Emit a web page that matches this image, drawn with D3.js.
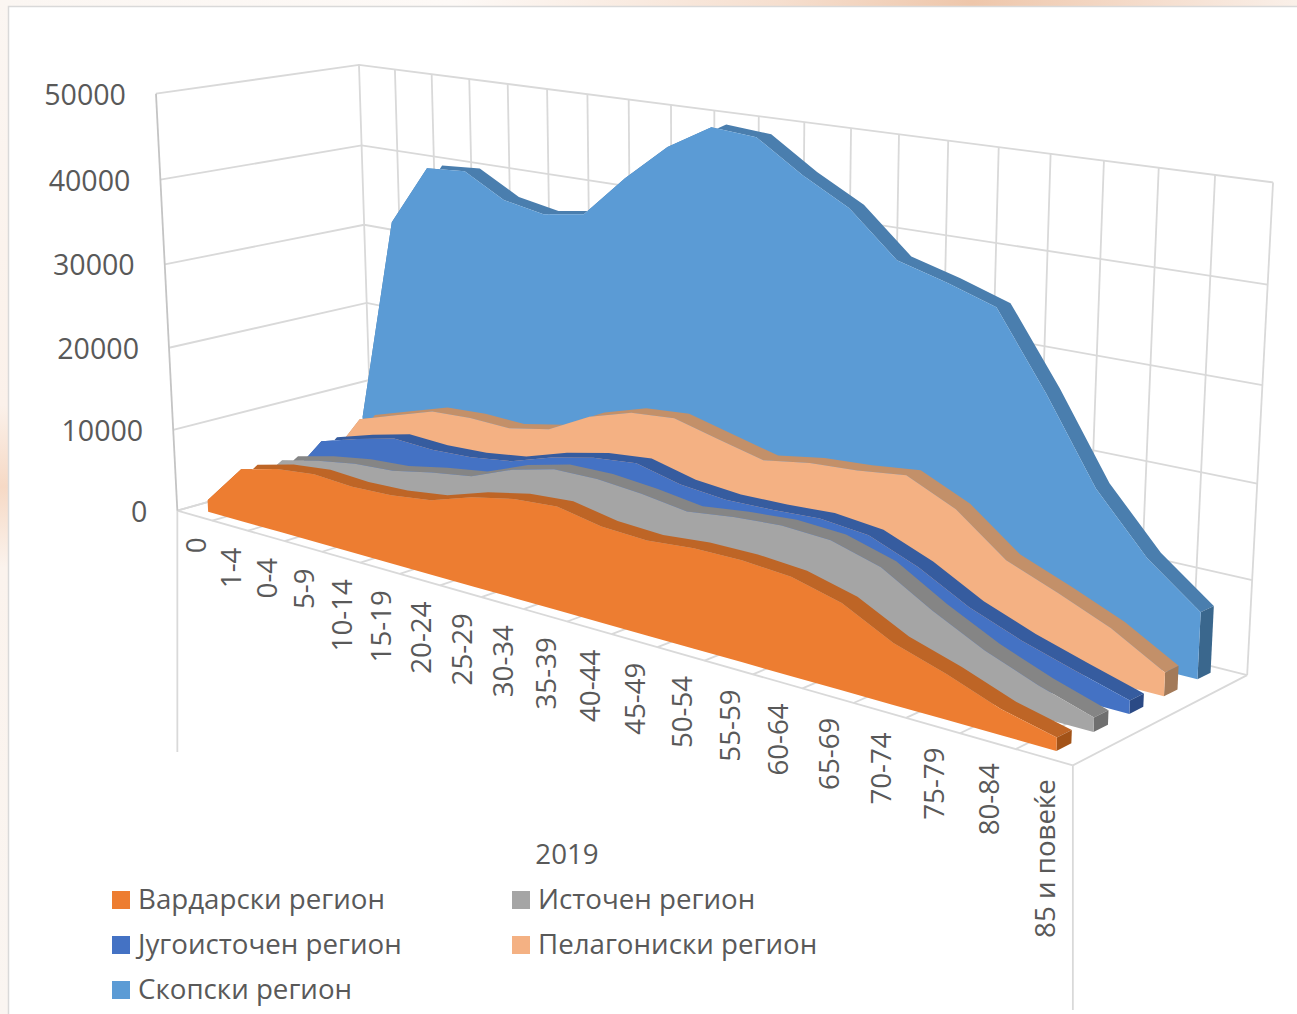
<!DOCTYPE html>
<html>
<head>
<meta charset="utf-8">
<script src="https://cdn.jsdelivr.net/npm/d3@7"></script>
<style>body{margin:0;background:#fff}svg{display:block}text{font-family:"Open Sans",sans-serif;fill:#595959}</style>
</head>
<body>
<svg width="1297" height="1014"></svg>
<script>
const svg = d3.select("svg");

const categories = ["0","1-4","0-4","5-9","10-14","15-19","20-24","25-29","30-34","35-39","40-44","45-49","50-54","55-59","60-64","65-69","70-74","75-79","80-84","85 и повеќе"];
const seriesNames = ["Вардарски регион","Источен регион","Југоисточен регион","Пелагониски регион","Скопски регион"];
const yearLabel = "2019";

const vardarski = [1440,6430,7620,8150,7850,8050,8680,10230,11240,11620,10660,10380,10840,10850,10430,9070,6340,4650,2620,1330];
const istocen = [1200,6130,7250,8040,8360,9320,10030,11960,13180,13250,12790,12060,12680,13030,12720,11180,8020,5310,3200,1470];
const jugoistocen = [1300,7170,8570,9750,9510,9750,10430,12020,13120,13630,12400,11920,12010,12300,11730,9610,6720,4650,2970,1380];
const pelagoniski = [2000,8650,10220,11760,12040,11890,12880,15430,16990,17430,16150,14900,15760,16100,16740,14290,10110,7970,5650,2480];
const skopski = [6510,32130,39490,39830,37140,36240,37030,41900,46120,48990,48560,45150,42340,37580,36120,34380,26360,17460,11350,7050];
const seriesValues = [vardarski, istocen, jugoistocen, pelagoniski, skopski];

const frontColors = ["#ED7D31","#A5A5A5","#4472C4","#F4B183","#5B9BD5"];
const topColors = ["#BE6526","#858585","#365C9F","#C39069","#4A7EAE"];
const endColors = ["#A35318","#6F6F6F","#2B4A85","#A37A59","#3A678D"];

// corners of the 3D box on screen: x, y, z, screen x, screen y
const anchors = [[0,0,0,178,510],[1,0,0,1072,767],[1,0,1,1248,673],[0,0,1,371,457],[0,1,0,156,93],[0,1,1,359,65],[1,1,1,1273,183]];

// least squares fit of the projective camera through the corners
function solveProjection(pts){
  const A = [], b = [];
  pts.forEach(([x,y,z,u,v]) => {
    A.push([x,y,z,1,0,0,0,0,-u*x,-u*y,-u*z]); b.push(u);
    A.push([0,0,0,0,x,y,z,1,-v*x,-v*y,-v*z]); b.push(v);
  });
  const n = 11;
  const M = d3.range(n).map(i => d3.range(n+1).map(j => {
    let s = 0;
    A.forEach((r,k) => { s += r[i]*(j<n ? r[j] : b[k]); });
    return s;
  }));
  for (let i = 0; i < n; i++) {
    let p = i;
    for (let r = i+1; r < n; r++) if (Math.abs(M[r][i]) > Math.abs(M[p][i])) p = r;
    [M[i],M[p]] = [M[p],M[i]];
    for (let r = 0; r < n; r++) {
      if (r === i) continue;
      const f = M[r][i]/M[i][i];
      for (let c = i; c <= n; c++) M[r][c] -= f*M[i][c];
    }
  }
  return M.map((r,i) => r[n]/r[i]);
}
const P = solveProjection(anchors);
function proj(x,y,z){
  const w = P[8]*x + P[9]*y + P[10]*z + 1;
  return [(P[0]*x + P[1]*y + P[2]*z + P[3])/w, (P[4]*x + P[5]*y + P[6]*z + P[7])/w];
}

const xScale = d3.scalePoint().domain(categories).range([0,1]).padding(0.5);
const yScale = d3.scaleLinear().domain([0,50000]).range([0,1]);
const zScale = d3.scalePoint().domain(seriesNames).range([0,1]).padding(0.5);
const frontOffset = 0.035, backOffset = 0.045;
const line = d3.line();

// page background behind the chart box
const defs = svg.append("defs");
const topGrad = defs.append("linearGradient").attr("id","topStrip");
[[0,"#fbf6f2"],[0.35,"#fdf9f6"],[0.6,"#f6dfcf"],[0.75,"#eec6aa"],[0.88,"#f5dccb"],[1,"#faf0e9"]].forEach(s => {
  topGrad.append("stop").attr("offset",s[0]).attr("stop-color",s[1]);
});
const leftGrad = defs.append("linearGradient").attr("id","leftStrip").attr("x1",0).attr("y1",0).attr("x2",0).attr("y2",1);
[[0,"#fbf6f2"],[0.4,"#fbf1ea"],[0.48,"#f6d9c5"],[0.56,"#fbf3ed"],[1,"#faf5f1"]].forEach(s => {
  leftGrad.append("stop").attr("offset",s[0]).attr("stop-color",s[1]);
});
svg.append("rect").attr("width",1297).attr("height",6).attr("fill","url(#topStrip)");
svg.append("rect").attr("width",8).attr("height",1014).attr("fill","url(#leftStrip)");
svg.append("path").attr("d","M8.5,1014V6.5H1297").attr("fill","none").attr("stroke","#d9d9d9").attr("stroke-width",1.5);

// walls and floor
const grid = svg.append("g").attr("stroke","#d9d9d9").attr("stroke-width",1.8).attr("fill","none");
yScale.ticks(5).forEach(t => {
  const y = yScale(t);
  grid.append("path").attr("d",line([proj(0,y,0),proj(0,y,1),proj(1,y,1)]));
});
d3.range(21).forEach(i => {
  grid.append("path").attr("d",line([proj(i/20,0,1),proj(i/20,1,1)]));
  grid.append("path").attr("d",line([proj(i/20,0,0),proj(i/20,0,1)]));
});
grid.append("path").attr("d",line([proj(0,0,0),proj(1,0,0)]));
const fl = proj(0,0,0), fr = proj(1,0,0);
grid.append("path").attr("d",line([fl,[fl[0],752]]));
grid.append("path").attr("d",line([fr,[fr[0],1010]]));
svg.append("path").attr("d",line([proj(0,1,0),fl])).attr("fill","none").attr("stroke","#c4c4c4").attr("stroke-width",1.8);

// series, back to front
d3.range(seriesNames.length-1,-1,-1).forEach(s => {
  const zf = zScale(seriesNames[s]) - frontOffset;
  const zb = zScale(seriesNames[s]) + backOffset;
  const vals = seriesValues[s];
  const topFront = vals.map((v,i) => proj(xScale(categories[i]),yScale(v),zf));
  const topBack = vals.map((v,i) => proj(xScale(categories[i]),yScale(v),zb));
  const botFront = vals.map((v,i) => proj(xScale(categories[i]),0,zf));
  const last = categories[categories.length-1];
  const lastV = vals[vals.length-1];
  const g = svg.append("g");
  g.append("path").attr("d",line(topFront.concat(topBack.slice().reverse()))+"Z").attr("fill",topColors[s]);
  g.append("path").attr("d",line([
    proj(xScale(last),yScale(lastV),zf),proj(xScale(last),yScale(lastV),zb),
    proj(xScale(last),0,zb),proj(xScale(last),0,zf)
  ])+"Z").attr("fill",endColors[s]);
  g.append("path").attr("d",line(topFront.concat(botFront.slice().reverse()))+"Z").attr("fill",frontColors[s]);
});

// value axis labels
yScale.ticks(5).forEach(t => {
  const p = proj(0,yScale(t),0);
  svg.append("text").attr("x",p[0]-30).attr("y",p[1]+11).attr("text-anchor","end").attr("font-size",28.6).text(t);
});

// category labels
categories.forEach(c => {
  const p = proj(xScale(c),0,0);
  svg.append("text")
    .attr("transform",`translate(${p[0]+11},${p[1]+22}) rotate(-90)`)
    .attr("text-anchor","end").attr("font-size",27.7).text(c);
});

svg.append("text").attr("x",567).attr("y",864).attr("text-anchor","middle").attr("font-size",27.7).text(yearLabel);

// legend: two columns, filled row by row
const legendX = d3.scaleOrdinal().domain([0,1]).range([112,512]);
const legendY = d3.scalePoint().domain([0,1,2]).range([900,990]);
seriesNames.forEach((name,i) => {
  const x = legendX(i%2), y = legendY(Math.floor(i/2));
  svg.append("rect").attr("x",x).attr("y",y-9).attr("width",18).attr("height",18).attr("fill",frontColors[i]);
  svg.append("text").attr("x",x+26).attr("y",y+9).attr("font-size",27.7).text(name);
});
</script>
</body>
</html>
